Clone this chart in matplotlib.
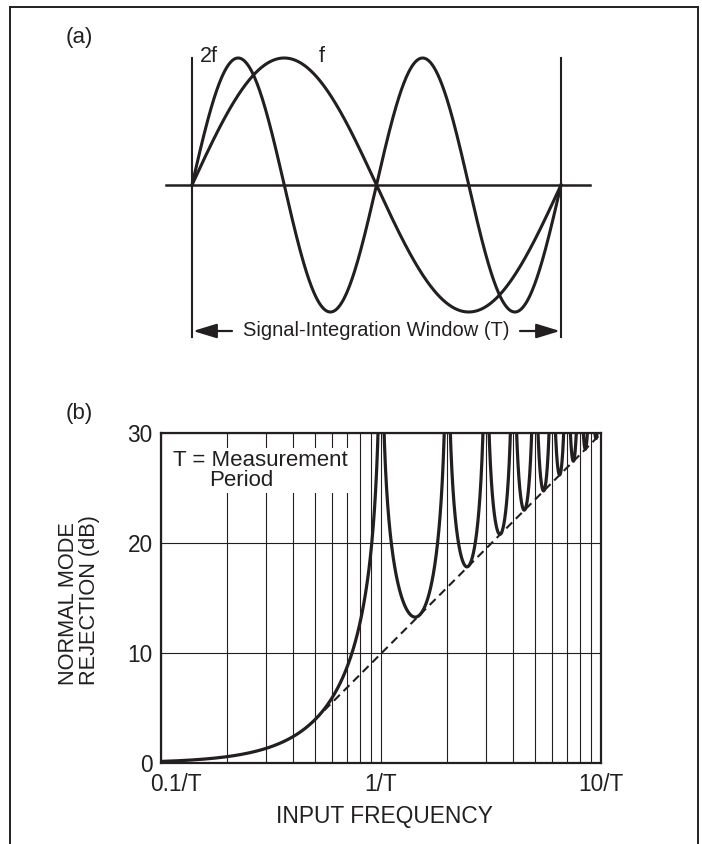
import numpy as np
import matplotlib
matplotlib.use("Agg")
import matplotlib.pyplot as plt
from matplotlib.lines import Line2D
from matplotlib.patches import Rectangle
from matplotlib.ticker import NullFormatter
from matplotlib.transforms import ScaledTranslation

plt.rcParams['font.family'] = ['Liberation Sans', 'DejaVu Sans']

# panel (a): whole cycles of each input inside the integration window
wave_cycles = [1, 2]
wave_labels = ['f', '2f']
window_text = 'Signal-Integration Window (T)'

# panel (b): normal mode rejection vs input frequency (units of 1/T)
x_tick_values = [0.1, 1, 10]
x_tick_labels = ['0.1/T', '1/T', '10/T']
y_tick_values = [0, 10, 20, 30]
y_max = 30
envelope_start = 0.5      # where the dashed envelope starts
legend_lines = ['T = Measurement', 'Period']

ink = '#231f20'
W, H = 702, 844


def fx(px):
    return px / W


def fy(py):
    return 1 - py / H


fig = plt.figure(figsize=(W / 100, H / 100), dpi=100)

# outer frame (open at the bottom)
for xs, ys in [([10, 10], [7, H]), ([10, 698], [7, 7]), ([698, 698], [7, H])]:
    fig.add_artist(Line2D([fx(x) for x in xs], [fy(y) for y in ys],
                          color=ink, lw=1.4))

fig.text(fx(79), fy(37), '(a)', fontsize=16, ha='center', va='center', color=ink)
fig.text(fx(79), fy(414), '(b)', fontsize=16, ha='center', va='center', color=ink)

# ---- panel (a) ----
x0, x1, y0, amp = 192, 561, 185, 127   # window edges / zero line / amplitude in px


def tx(px):
    return (px - x0) / (x1 - x0)


def ty(py):
    return (y0 - py) / amp


ax_a = fig.add_axes([fx(150), fy(345), (600 - 150) / W, (345 - 30) / H])
ax_a.set_xlim(tx(150), tx(600))
ax_a.set_ylim(ty(345), ty(30))
ax_a.axis('off')

t = np.linspace(0, 1, 600)
for c in wave_cycles:
    ax_a.plot(t, np.sin(2 * np.pi * c * t), color=ink, lw=2.2, clip_on=False)

ax_a.plot([tx(166), tx(590)], [0, 0], color=ink, lw=1.8, clip_on=False)
for xv in [0, 1]:
    ax_a.plot([xv, xv], [ty(337), ty(58)], color=ink, lw=1.5, clip_on=False)

ax_a.text(tx(322), ty(57), wave_labels[0], fontsize=15.5, ha='center', va='center', color=ink)
ax_a.text(tx(209), ty(57), wave_labels[1], fontsize=15.5, ha='center', va='center', color=ink)

arrow_y = ty(331)
for tail, tip in [(232, 193), (520, 560)]:
    ax_a.annotate('', xy=(tx(tip), arrow_y), xytext=(tx(tail), arrow_y),
                  arrowprops=dict(arrowstyle='-|>,head_length=0.72,head_width=0.22',
                                  mutation_scale=20, lw=1.6, color=ink,
                                  shrinkA=0, shrinkB=0))
ax_a.text(0.5, arrow_y, window_text, fontsize=14.5, ha='center', va='center', color=ink)

# ---- panel (b) ----
ax_b = fig.add_axes([fx(161), fy(763), 440 / W, 330 / H])
ax_b.set_xscale('log')
ax_b.set_xlim(x_tick_values[0], x_tick_values[-1])
ax_b.set_ylim(0, y_max)

freq = np.union1d(np.logspace(-1, 1, 20000), np.arange(1, 11))
nmr = -20 * np.log10(np.abs(np.sinc(freq)) + 1e-6)
ax_b.plot(freq, nmr, color=ink, lw=2.3, zorder=3)

fe = np.logspace(np.log10(envelope_start), 1, 200)
ax_b.plot(fe, 20 * np.log10(np.pi * fe), color=ink, lw=1.5,
          linestyle=(0, (4, 2.5)), zorder=3)

ax_b.set_xticks(x_tick_values, x_tick_labels)
ax_b.xaxis.set_minor_formatter(NullFormatter())
ax_b.set_yticks(y_tick_values)
ax_b.grid(which='both', axis='x', color=ink, lw=0.8)
ax_b.grid(which='major', axis='y', color=ink, lw=0.8)
ax_b.tick_params(which='both', length=0, labelsize=16.3, labelcolor=ink)
ax_b.tick_params(axis='x', pad=7)
ax_b.tick_params(axis='y', pad=6)
for sp in ax_b.spines.values():
    sp.set_linewidth(1.6)
    sp.set_color(ink)

first = ax_b.get_xticklabels()[0]
first.set_transform(first.get_transform() + ScaledTranslation(0.15, 0, fig.dpi_scale_trans))

ax_b.add_patch(Rectangle(((163 - 161) / 440, (763 - 493) / 330), (356 - 163) / 440,
                         (493 - 448) / 330, transform=ax_b.transAxes,
                         facecolor='white', edgecolor='none', zorder=2))
ax_b.text((173 - 161) / 440, (763 - 460) / 330, legend_lines[0], transform=ax_b.transAxes,
          fontsize=16, ha='left', va='center', color=ink, zorder=4)
ax_b.text((209 - 161) / 440, (763 - 481) / 330, legend_lines[1], transform=ax_b.transAxes,
          fontsize=16, ha='left', va='center', color=ink, zorder=4)

fig.text(fx(384), fy(816), 'INPUT FREQUENCY', fontsize=16.4, ha='center', va='center', color=ink)
fig.text(fx(79), fy(600), 'NORMAL MODE\nREJECTION (dB)', fontsize=15.7, rotation=90,
         ha='center', va='center', multialignment='left', linespacing=0.95, color=ink)

fig.savefig('out.png', dpi=100)
